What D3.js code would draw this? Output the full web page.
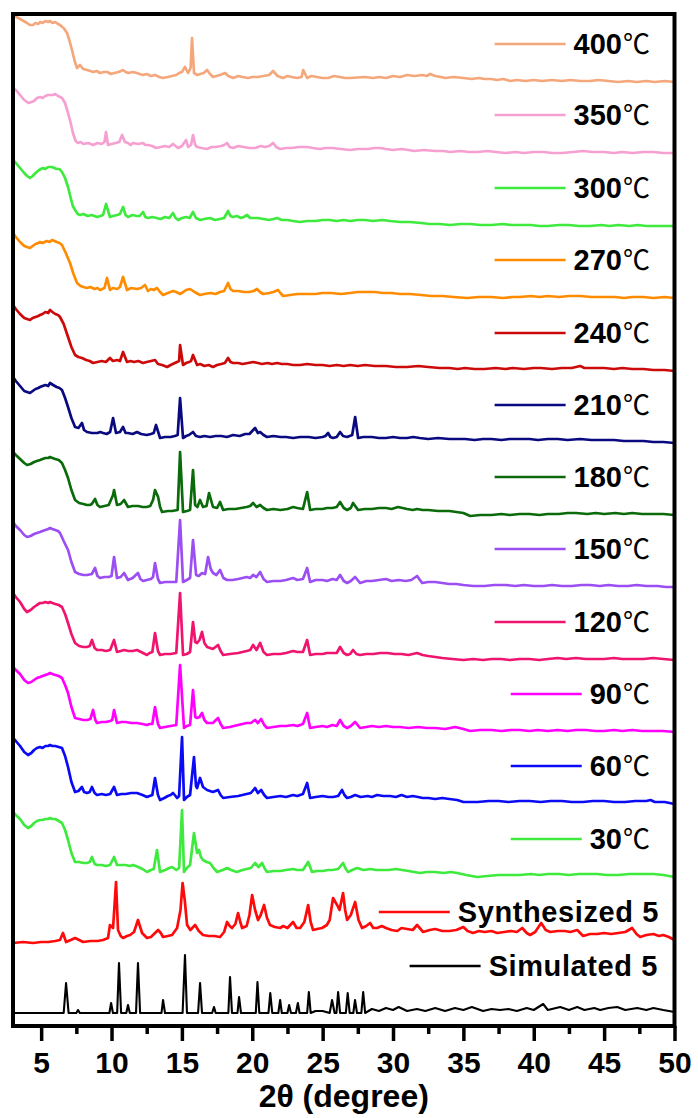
<!DOCTYPE html>
<html>
<head>
<meta charset="utf-8">
<script src="https://cdnjs.cloudflare.com/ajax/libs/d3/7.8.5/d3.min.js"></script>
<style>
  html, body { margin: 0; padding: 0; background: #fff; }
  svg { display: block; }
</style>
</head>
<body>
<svg id="chart" width="698" height="1118"></svg>
<script>
// ---------------- DATA ----------------
// x: 2-theta (degree); value: relative intensity (a.u.) above each pattern's own baseline
const seriesLabels = ["400", "350", "300", "270", "240", "210", "180", "150", "120", "90", "60", "30", "Synthesized 5", "Simulated 5"];
const seriesColors = ["#f5a77c", "#f5a0d0", "#3dea3d", "#ff8c00", "#cc0a0a", "#0a0a80", "#0b6b0b", "#9b4ef2", "#f0146e", "#ff00ff", "#0a0af5", "#3dea3d", "#ff0a0a", "#000000"];
const seriesOffsets = [944, 873, 800, 728, 655, 583, 511, 439, 366, 294, 222, 149, 86, 13];
const unitSuffix = "℃";

const d400 = [[3.0,67],[3.25,65],[3.5,63],[3.75,61],[4.0,59],[4.2,57],[4.42,57],[4.6,59],[4.8,58],[4.92,60],[5.1,59],[5.3,61],[5.5,60],[5.63,61],[5.8,59],[6.0,60],[6.2,58],[6.34,57],[6.5,55],[6.6,54],[6.84,49],[7.0,42],[7.19,32],[7.4,20],[7.55,14],[7.76,17],[7.98,13],[8.26,12],[8.5,11],[8.7,10],[8.95,11],[9.18,9],[9.45,10],[9.7,10],[9.95,8],[10.2,9],[10.5,10],[10.82,12],[11.0,10],[11.2,9],[11.5,10],[11.8,9],[12.0,8],[12.24,7],[12.5,8],[12.8,6],[13.1,7],[13.4,5],[13.66,4],[14.0,5],[14.3,6],[14.6,7],[14.8,9],[15.0,10],[15.22,15],[15.44,9],[15.62,14],[15.72,44],[15.86,9],[16.1,7],[16.3,8],[16.55,9],[16.79,12],[17.0,8],[17.21,5],[17.45,6],[17.7,7],[18.07,9],[18.3,6],[18.64,4],[19.0,6],[19.3,5],[19.7,4],[20.0,5],[20.4,5],[20.8,6],[21.2,7],[21.48,11],[21.8,6],[22.19,4],[22.5,6],[22.8,5],[23.2,4],[23.5,5],[23.62,12],[23.9,4],[24.2,6],[24.6,5],[25.0,4],[25.4,4],[25.8,6],[26.2,5],[26.6,4],[26.95,4],[28.0,5],[28.6,4],[29.0,5],[29.5,4],[30.0,6],[30.5,5],[31.0,7],[31.5,6],[32.1,7],[32.4,6],[32.64,8],[33.0,6],[33.4,5],[33.7,4],[34.3,5],[35.0,4],[35.6,3],[36.1,4],[36.5,3],[37.0,3],[37.4,2],[37.83,3],[38.32,1],[38.8,2],[39.4,1],[40.0,2],[40.6,1],[41.3,2],[42.0,1],[42.6,2],[43.3,1],[44.0,1],[44.6,2],[45.3,1],[46.0,0],[46.7,1],[47.3,0],[48.0,1],[48.6,0],[49.3,1],[50,0]];
const d350 = [[3.0,65],[3.2,63],[3.5,58],[3.8,53],[4.1,50],[4.3,51],[4.5,52],[4.7,55],[4.92,56],[5.1,55],[5.3,57],[5.5,58],[5.84,58],[6.0,59],[6.2,57],[6.35,56],[6.48,55],[6.7,50],[6.91,40],[7.1,30],[7.26,20],[7.45,12],[7.62,10],[7.8,11],[8.0,9],[8.35,10],[8.69,8],[9.0,10],[9.3,9],[9.5,11],[9.61,21],[9.75,8],[10.0,9],[10.3,10],[10.55,11],[10.75,18],[10.95,11],[11.17,10],[11.35,8],[11.53,10],[11.9,9],[12.24,10],[12.4,8],[12.6,8],[12.9,7],[13.16,5],[13.5,6],[13.8,7],[14.1,6],[14.37,9],[14.55,7],[14.73,5],[15.0,7],[15.3,13],[15.44,6],[15.65,8],[15.79,18],[15.95,8],[16.08,6],[16.4,5],[16.79,4],[17.1,6],[17.4,6],[17.8,7],[18.0,8],[18.21,10],[18.4,6],[18.64,5],[19.0,7],[19.4,6],[19.8,5],[20.2,5],[20.6,7],[20.9,6],[21.2,7],[21.48,10],[21.7,6],[21.98,4],[22.4,5],[22.8,5],[23.3,6],[23.9,6],[24.3,5],[24.8,4],[25.2,5],[25.7,5],[26.3,4],[26.95,3],[27.5,4],[28.2,4],[28.7,5],[29.08,5],[29.5,4],[30.0,3],[30.6,4],[31.1,3],[31.5,2],[32.2,3],[33,2],[33.6,2],[34.06,1],[34.8,2],[35.4,1],[36,1],[36.7,2],[37.3,1],[38,0],[38.7,1],[39.3,0],[40,1],[40.7,1],[41.3,0],[42,0],[42.8,1],[43.5,2],[44.2,1],[45,1],[45.7,0],[46.3,1],[47,0],[47.8,1],[48.5,1],[49.2,0],[50,0]];
const d300 = [[3.0,66],[3.2,63],[3.5,58],[3.8,53],[4.0,50],[4.21,48],[4.4,50],[4.6,53],[4.85,56],[5.13,58],[5.3,57],[5.5,59],[5.77,59],[5.95,58],[6.1,57],[6.3,57],[6.48,54],[6.7,48],[6.91,39],[7.1,28],[7.25,20],[7.41,16],[7.6,12],[7.76,11],[8.0,12],[8.3,10],[8.6,11],[8.97,9],[9.2,10],[9.4,11],[9.61,22],[9.89,9],[10.1,10],[10.4,11],[10.6,12],[10.82,19],[11.0,11],[11.17,9],[11.5,11],[11.8,10],[12.0,10],[12.24,14],[12.4,9],[12.59,8],[12.9,9],[13.2,8],[13.5,7],[13.8,9],[14.1,8],[14.37,13],[14.55,8],[14.73,6],[15.0,8],[15.3,9],[15.55,8],[15.79,14],[16.0,8],[16.29,6],[16.6,7],[17.0,8],[17.35,6],[17.7,7],[18.0,8],[18.28,15],[18.45,10],[18.64,9],[18.9,10],[19.2,8],[19.4,9],[19.63,11],[19.85,8],[20.06,8],[20.4,8],[20.8,7],[21.2,6],[21.5,7],[21.76,8],[22.1,6],[22.5,6],[22.9,5],[23.4,4],[23.9,5],[24.5,5],[25.0,6],[25.5,6],[26.0,5],[26.5,6],[26.95,5],[27.5,6],[28.0,6],[28.6,5],[29.23,6],[29.8,5],[30.5,4],[31.2,4],[32,3],[32.6,2],[33.3,2],[34.06,1],[34.8,2],[35.5,2],[36.2,1],[37,1],[37.8,2],[38.4,1],[39,1],[39.8,1],[40.4,0],[41,0],[41.8,1],[42.5,1],[43.2,0],[44,0],[44.8,1],[45.4,0],[46,1],[46.8,0],[47.4,1],[48,0],[49,0],[50,0]];
const d270 = [[3.0,65],[3.2,61],[3.5,56],[3.8,52],[4.0,51],[4.21,50],[4.4,52],[4.6,54],[4.8,55],[4.92,56],[5.1,55],[5.4,57],[5.6,56],[5.77,58],[5.95,57],[6.1,56],[6.3,55],[6.48,53],[6.75,45],[7.05,35],[7.3,24],[7.55,15],[7.8,12],[8.0,11],[8.26,10],[8.5,11],[8.8,9],[9.0,10],[9.18,8],[9.5,10],[9.68,20],[9.89,8],[10.1,10],[10.4,9],[10.6,11],[10.82,21],[11.1,8],[11.4,10],[11.8,9],[12.1,10],[12.38,13],[12.59,7],[12.8,9],[13.0,8],[13.23,10],[13.45,6],[13.66,3],[14.0,5],[14.37,7],[14.6,6],[14.87,4],[15.1,6],[15.3,8],[15.58,9],[15.9,6],[16.29,3],[16.6,4],[17.0,5],[17.4,4],[17.7,6],[18.0,7],[18.28,15],[18.45,9],[18.64,7],[19.0,7],[19.4,6],[19.8,6],[20.1,7],[20.34,9],[20.55,6],[20.77,4],[21.2,5],[21.5,6],[21.83,8],[22.0,5],[22.19,2],[22.7,3],[23.2,4],[23.8,4],[24.5,4],[25.0,5],[25.6,5],[26.3,4],[26.95,5],[27.5,6],[28.0,6],[28.7,6],[29.3,5],[29.9,5],[30.5,4],[31.2,4],[32,3],[32.7,2],[33.5,2],[34.3,1],[35.27,0],[36.1,1],[37,1],[37.8,0],[38.5,1],[39,1],[39.8,2],[40.4,1],[41,2],[41.8,1],[42.5,2],[43.3,2],[44.1,1],[45,1],[45.8,1],[46.4,0],[47,1],[47.8,1],[48.5,0],[49.3,1],[50,0]];
const d240 = [[3.0,66],[3.2,62],[3.5,57],[3.8,53],[4.0,52],[4.21,51],[4.4,53],[4.6,54],[4.8,55],[4.92,56],[5.1,57],[5.3,59],[5.5,58],[5.63,61],[5.8,59],[6.0,57],[6.2,56],[6.34,54],[6.6,47],[6.91,34],[7.15,24],[7.41,16],[7.65,14],[7.9,13],[8.2,11],[8.45,10],[8.69,8],[9.0,9],[9.3,10],[9.6,9],[9.89,13],[10.1,10],[10.4,11],[10.6,10],[10.82,19],[11.1,9],[11.35,10],[11.6,9],[11.9,10],[12.24,8],[12.5,9],[12.8,10],[13.09,11],[13.3,7],[13.6,6],[13.95,4],[14.2,6],[14.5,8],[14.8,10],[14.87,26],[15.08,6],[15.3,8],[15.5,9],[15.65,10],[15.79,16],[16.08,6],[16.3,7],[16.6,5],[16.9,6],[17.21,4],[17.5,6],[17.8,7],[18.05,8],[18.28,13],[18.45,9],[18.64,8],[19.0,8],[19.3,7],[19.7,8],[20.06,9],[20.4,8],[20.7,7],[21.1,8],[21.4,7],[21.76,8],[22.1,7],[22.5,7],[22.9,6],[23.4,6],[23.9,7],[24.5,6],[25.0,6],[25.5,5],[26.0,6],[26.5,5],[26.95,6],[27.5,5],[28.0,6],[28.7,5],[29.5,5],[30.2,4],[31,4],[31.8,5],[32.5,4],[33.3,3],[34,3],[34.6,2],[35.12,3],[35.8,2],[36.5,2],[37.3,3],[38,2],[38.5,3],[39.3,2],[40,3],[40.5,3],[41.3,2],[42,3],[42.7,3],[43.3,5],[43.6,3],[44.3,3],[45,3],[45.7,2],[46.3,3],[47,2],[47.8,2],[48.5,1],[49.3,1],[50,0]];
const d210 = [[3.0,66],[3.2,62],[3.5,57],[3.8,52],[4.0,51],[4.21,50],[4.4,52],[4.6,54],[4.8,55],[4.92,56],[5.1,57],[5.3,58],[5.5,57],[5.63,60],[5.85,58],[6.1,56],[6.3,55],[6.48,53],[6.7,45],[6.91,36],[7.15,25],[7.41,16],[7.65,15],[7.9,20],[8.05,13],[8.26,11],[8.6,10],[9.0,10],[9.2,11],[9.4,10],[9.65,9],[9.9,11],[10.11,25],[10.32,10],[10.6,11],[10.82,16],[11.0,10],[11.17,10],[11.5,9],[11.81,11],[12.1,9],[12.5,8],[12.8,9],[13.0,10],[13.16,18],[13.45,5],[13.8,6],[14.2,6],[14.5,7],[14.7,8],[14.87,45],[15.08,5],[15.3,7],[15.5,8],[15.79,11],[16.0,7],[16.29,6],[16.6,7],[17.0,6],[17.4,7],[17.8,7],[18.2,6],[18.64,8],[19.1,7],[19.5,9],[19.8,9],[20.0,12],[20.2,15],[20.4,10],[20.56,11],[20.8,8],[21.05,6],[21.5,7],[22.0,6],[22.4,6],[22.9,5],[23.4,6],[24.0,6],[24.5,5],[25.0,6],[25.2,7],[25.39,10],[25.55,6],[25.74,5],[26.0,6],[26.24,11],[26.45,7],[26.74,6],[27.1,8],[27.31,26],[27.52,5],[27.9,6],[28.5,6],[29.0,5],[29.5,5],[30.0,6],[30.5,5],[31.0,5],[31.43,6],[31.9,5],[32.5,4],[33.2,5],[34,4],[34.6,4],[35.12,4],[35.8,3],[36.4,4],[37,4],[37.7,3],[38.3,4],[39,4],[39.7,4],[40.3,3],[41,4],[41.7,4],[42.4,3],[43.3,4],[44.1,3],[45,3],[45.7,3],[46.4,2],[47,2],[47.8,2],[48.5,1],[49.2,1],[50,0]];
const d180 = [[3.0,63],[3.2,60],[3.5,56],[3.8,52],[4.0,50],[4.25,51],[4.5,53],[4.7,54],[4.92,55],[5.1,56],[5.3,57],[5.5,57],[5.63,58],[5.8,57],[6.0,56],[6.25,55],[6.48,52],[6.7,45],[6.91,37],[7.15,25],[7.41,15],[7.7,12],[8.0,11],[8.26,10],[8.45,10],[8.6,11],[8.83,16],[9.0,10],[9.18,8],[9.5,9],[9.8,10],[10.11,20],[10.18,25],[10.39,10],[10.65,11],[10.89,15],[11.17,8],[11.5,9],[11.9,9],[12.2,8],[12.5,8],[12.75,9],[12.95,15],[13.09,25],[13.31,18],[13.45,8],[13.59,3],[14.0,4],[14.3,4],[14.7,5],[14.87,63],[15.08,3],[15.35,4],[15.58,5],[15.79,45],[15.94,10],[16.1,8],[16.29,15],[16.5,8],[16.75,9],[16.93,22],[17.21,8],[17.5,7],[17.71,13],[17.93,5],[18.3,6],[18.8,6],[19.2,7],[19.6,8],[19.85,9],[20.06,12],[20.3,8],[20.56,10],[20.8,7],[21.05,5],[21.5,6],[22.0,5],[22.5,6],[22.9,8],[23.2,7],[23.6,6],[23.9,23],[24.11,5],[24.5,6],[25.0,6],[25.3,7],[25.7,7],[26.0,8],[26.24,13],[26.5,7],[26.74,5],[27.0,7],[27.16,12],[27.52,5],[28.0,6],[28.5,6],[29.0,7],[29.5,7],[29.9,6],[30.36,8],[31.0,6],[31.4,5],[31.71,6],[32.1,5],[32.5,5],[33.2,4],[34,4],[34.5,3],[35.0,2],[35.48,-1],[36.2,0],[37,0],[37.7,1],[38.3,0],[39,1],[39.7,1],[40.4,0],[41,1],[41.8,1],[42.4,2],[43,2],[43.8,1],[44.4,2],[45,1],[45.8,2],[46.4,1],[47,2],[47.7,1],[48.5,1],[49.2,1],[50,0]];
const d150 = [[3.0,65],[3.2,61],[3.5,57],[3.8,52],[4.0,50],[4.25,51],[4.5,53],[4.7,54],[4.92,55],[5.1,56],[5.3,57],[5.5,58],[5.63,59],[5.8,58],[6.0,57],[6.2,56],[6.34,54],[6.6,46],[6.91,37],[7.15,25],[7.41,15],[7.7,13],[8.0,12],[8.26,12],[8.6,13],[8.83,19],[9.0,11],[9.18,9],[9.5,10],[9.8,10],[10.0,11],[10.18,30],[10.39,9],[10.65,10],[10.89,14],[11.17,7],[11.5,9],[11.88,14],[12.05,8],[12.24,6],[12.5,7],[12.8,8],[12.95,10],[13.09,24],[13.3,8],[13.45,4],[13.8,5],[14.2,5],[14.6,5],[14.87,67],[15.08,5],[15.35,7],[15.58,9],[15.79,47],[16.01,12],[16.2,11],[16.43,14],[16.65,13],[16.86,30],[17.05,18],[17.21,14],[17.45,12],[17.71,17],[17.95,9],[18.21,7],[18.6,7],[19.0,8],[19.3,9],[19.6,10],[19.85,9],[20.06,12],[20.3,10],[20.56,15],[20.8,8],[21.05,5],[21.5,6],[22.0,6],[22.4,7],[22.9,9],[23.2,7],[23.6,8],[23.9,19],[24.11,5],[24.5,7],[25.0,7],[25.3,6],[25.7,8],[26.0,7],[26.24,12],[26.5,6],[26.74,4],[27.0,6],[27.31,10],[27.66,4],[28.1,6],[28.5,6],[29.0,7],[29.5,8],[29.9,6],[30.4,7],[30.9,6],[31.3,7],[31.71,11],[32.07,4],[32.5,5],[33.0,5],[33.5,4],[34,3],[34.5,3],[35.0,2],[35.7,1],[36.5,1],[37.2,2],[38,2],[38.7,1],[39.3,2],[40,1],[40.7,1],[41.3,2],[42,1],[42.7,1],[43.4,2],[44,2],[44.7,1],[45.3,2],[46,1],[46.7,1],[47.3,2],[48,1],[48.8,1],[49.4,0],[50,0]];
const d120 = [[3.0,67],[3.2,63],[3.5,58],[3.8,51],[4.0,48],[4.25,50],[4.5,53],[4.7,55],[4.92,57],[5.1,57],[5.3,58],[5.5,57],[5.63,58],[5.8,57],[6.0,56],[6.25,55],[6.48,53],[6.7,46],[6.91,37],[7.15,26],[7.41,17],[7.7,14],[8.0,13],[8.26,13],[8.45,14],[8.61,20],[8.8,12],[8.97,10],[9.3,10],[9.6,9],[9.9,10],[10.18,20],[10.39,8],[10.65,9],[10.89,10],[11.2,9],[11.5,9],[11.81,10],[12.1,8],[12.52,5],[12.7,7],[12.9,8],[13.09,27],[13.3,9],[13.45,5],[13.8,6],[14.2,6],[14.6,7],[14.87,67],[15.08,5],[15.35,6],[15.58,8],[15.79,38],[15.95,18],[16.08,17],[16.25,20],[16.43,28],[16.6,17],[16.79,13],[17.2,11],[17.57,15],[17.75,9],[17.93,5],[18.4,6],[19.0,7],[19.3,8],[19.6,9],[19.85,10],[20.06,15],[20.3,10],[20.56,17],[20.8,8],[21.05,5],[21.5,6],[22.0,6],[22.4,7],[22.9,9],[23.2,8],[23.6,8],[23.9,20],[24.11,5],[24.5,6],[25.0,6],[25.3,7],[25.7,7],[26.0,7],[26.24,13],[26.5,7],[26.74,5],[26.95,6],[27.16,10],[27.4,6],[27.66,5],[28.1,6],[28.6,6],[29.1,7],[29.6,7],[30.1,6],[30.6,6],[31.1,5],[31.4,6],[31.71,7],[32.1,5],[32.5,4],[33.0,3],[33.5,2],[34.2,1],[35.0,0],[35.7,1],[36.4,0],[37,1],[37.7,1],[38.3,0],[39,1],[39.7,1],[40.4,0],[41,1],[41.7,2],[42.3,1],[43,2],[43.7,1],[44.3,1],[45,1],[45.7,2],[46.3,1],[47,1],[47.8,1],[48.5,2],[49.2,1],[50,0]];
const d90 = [[3.0,65],[3.2,62],[3.5,58],[3.8,52],[4.07,49],[4.3,50],[4.5,52],[4.7,54],[4.92,55],[5.1,56],[5.3,57],[5.5,58],[5.63,59],[5.8,58],[6.0,57],[6.25,56],[6.48,54],[6.7,47],[6.91,39],[7.15,25],[7.41,14],[7.7,13],[8.0,12],[8.26,12],[8.5,13],[8.69,22],[8.85,12],[8.97,9],[9.3,10],[9.6,10],[9.9,11],[10.05,12],[10.18,22],[10.39,9],[10.7,10],[11.0,10],[11.4,9],[11.81,9],[12.2,8],[12.52,7],[12.7,8],[12.9,8],[13.09,25],[13.3,8],[13.45,4],[13.8,5],[14.2,6],[14.6,7],[14.87,67],[15.15,4],[15.35,6],[15.58,7],[15.79,42],[15.95,15],[16.08,14],[16.25,15],[16.43,19],[16.6,12],[16.79,9],[17.2,9],[17.57,14],[17.75,8],[17.93,4],[18.4,5],[19.0,7],[19.3,8],[19.6,9],[19.9,9],[20.2,12],[20.4,9],[20.63,13],[20.85,7],[21.05,4],[21.5,5],[22.0,6],[22.4,6],[22.9,7],[23.2,6],[23.6,8],[23.9,19],[24.11,4],[24.5,5],[25.0,6],[25.3,5],[25.7,7],[26.0,6],[26.24,12],[26.5,6],[26.74,4],[27.0,6],[27.31,10],[27.66,4],[28.1,5],[28.5,6],[29.0,5],[29.5,6],[30.0,5],[30.5,5],[31.1,4],[31.78,5],[32.4,4],[33.0,4],[33.7,3],[34.41,5],[35.0,3],[35.48,1],[36.2,2],[37,2],[37.7,1],[38.4,2],[39,2],[39.7,1],[40.3,2],[41,1],[41.7,2],[42.4,1],[43,2],[43.7,2],[44.4,1],[45,1],[45.7,2],[46.3,1],[47,2],[47.7,1],[48.5,1],[49.2,1],[50,0]];
const d60 = [[3.0,66],[3.2,63],[3.5,58],[3.8,52],[4.07,49],[4.3,51],[4.5,54],[4.7,56],[4.92,57],[5.1,56],[5.3,58],[5.5,58],[5.63,59],[5.8,58],[6.0,58],[6.25,57],[6.48,56],[6.7,48],[6.91,37],[7.15,22],[7.41,12],[7.65,13],[7.9,17],[8.05,12],[8.26,11],[8.45,12],[8.61,17],[8.8,11],[8.97,9],[9.3,10],[9.6,9],[9.9,10],[10.18,17],[10.39,9],[10.7,10],[11.0,10],[11.4,11],[11.81,11],[12.2,9],[12.52,7],[12.7,8],[12.9,9],[13.09,26],[13.3,9],[13.45,4],[13.75,6],[14.0,8],[14.2,9],[14.37,11],[14.55,8],[14.66,6],[14.8,8],[15.01,67],[15.15,4],[15.35,7],[15.58,9],[15.86,47],[16.0,18],[16.08,16],[16.29,26],[16.5,17],[16.79,14],[17.2,12],[17.57,14],[17.75,9],[17.93,6],[18.4,7],[19.0,8],[19.3,9],[19.6,10],[19.9,11],[20.2,16],[20.4,11],[20.63,14],[20.85,9],[21.05,6],[21.5,7],[22.0,8],[22.4,7],[22.9,9],[23.2,8],[23.6,10],[23.9,21],[24.11,6],[24.5,7],[25.0,8],[25.4,7],[25.74,7],[26.1,8],[26.38,14],[26.55,9],[26.74,6],[27.0,7],[27.31,9],[27.7,7],[28.2,8],[28.5,7],[28.87,9],[29.3,8],[29.8,8],[30.2,7],[30.6,9],[31.0,7],[31.4,8],[31.78,7],[32.1,6],[32.5,6],[33.0,5],[33.5,6],[34.0,5],[34.56,4],[35.0,2],[35.5,2],[36,2],[36.8,3],[37.5,3],[38.2,2],[39,3],[39.7,3],[40.5,2],[41.2,3],[42,3],[42.7,2],[43.5,2],[44.2,3],[45,3],[45.7,2],[46.5,2],[47.2,3],[48.0,3],[48.3,4],[48.6,2],[49.3,2],[50,0]];
const d30 = [[3.0,65],[3.2,62],[3.5,58],[3.8,52],[4.07,49],[4.3,51],[4.5,54],[4.7,56],[4.92,57],[5.1,57],[5.3,58],[5.5,58],[5.63,59],[5.8,58],[6.0,58],[6.25,56],[6.48,54],[6.7,47],[6.91,37],[7.15,24],[7.41,15],[7.7,15],[8.0,14],[8.26,14],[8.45,15],[8.61,20],[8.8,13],[8.97,12],[9.3,12],[9.6,11],[9.9,12],[10.18,20],[10.39,12],[10.7,12],[11.0,12],[11.3,11],[11.53,12],[11.9,10],[12.2,8],[12.52,5],[12.8,7],[13.0,8],[13.23,27],[13.45,5],[13.8,7],[14.1,9],[14.3,10],[14.6,7],[14.8,9],[15.01,67],[15.15,5],[15.35,9],[15.58,12],[15.86,44],[16.08,24],[16.22,27],[16.35,20],[16.5,17],[16.75,15],[17.0,14],[17.25,9],[17.5,5],[17.9,7],[18.21,9],[18.5,7],[18.9,5],[19.3,7],[19.6,8],[19.9,9],[20.2,14],[20.45,10],[20.7,14],[20.9,8],[21.05,5],[21.5,6],[22.0,6],[22.4,7],[22.9,8],[23.2,7],[23.6,7],[23.97,15],[24.25,5],[24.6,6],[25.0,6],[25.4,7],[25.7,7],[26.1,8],[26.45,14],[26.65,8],[26.81,5],[27.1,7],[27.45,9],[27.9,7],[28.4,8],[28.8,7],[29.23,7],[29.7,7],[30.2,8],[30.65,7],[31.1,6],[31.5,5],[31.93,4],[32.4,5],[33,5],[33.6,4],[34.1,5],[34.56,4],[35.2,2],[35.98,0],[36.7,1],[37.5,2],[38.2,2],[39,2],[39.8,3],[40.4,2],[41,3],[41.8,3],[42.5,2],[43.2,3],[43.8,3],[44.5,3],[45.2,2],[46,2],[46.8,3],[47.6,3],[48.5,3],[49.2,2],[50,0]];
const dSynthesized = [[3.0,-3],[3.7,-2],[4.42,-3],[5.0,-2],[5.5,-2],[6.0,-1],[6.34,0],[6.55,7],[6.77,-2],[7.1,0],[7.41,2],[7.7,0],[7.98,-2],[8.5,-1],[9.0,-1],[9.4,0],[9.75,2],[9.89,15],[10.11,12],[10.32,58],[10.46,10],[10.65,4],[10.82,2],[11.1,4],[11.32,5],[11.6,8],[11.88,20],[12.17,7],[12.52,2],[12.8,3],[13.09,7],[13.31,10],[13.5,7],[13.66,3],[14.0,4],[14.3,5],[14.66,12],[14.9,30],[15.05,57],[15.2,40],[15.37,15],[15.6,10],[15.94,15],[16.2,9],[16.5,5],[16.9,4],[17.3,4],[17.71,3],[18.0,8],[18.21,18],[18.4,14],[18.56,12],[18.8,16],[18.99,27],[19.15,18],[19.28,12],[19.6,14],[19.8,25],[19.99,45],[20.2,30],[20.41,20],[20.6,25],[20.84,35],[21.05,22],[21.26,15],[21.6,13],[21.98,12],[22.2,14],[22.5,12],[22.7,15],[22.9,18],[23.15,12],[23.4,12],[23.7,18],[23.97,35],[24.15,18],[24.32,10],[24.6,11],[24.96,12],[25.3,15],[25.5,20],[25.74,42],[25.9,38],[26.03,35],[26.2,30],[26.45,47],[26.6,30],[26.74,20],[27.0,25],[27.31,38],[27.55,20],[27.8,12],[28.1,14],[28.37,17],[28.6,12],[28.87,12],[29.2,14],[29.5,12],[29.9,10],[30.3,9],[30.6,12],[31.0,11],[31.4,10],[31.71,15],[32.14,8],[32.6,10],[33.0,11],[33.5,9],[34.0,9],[34.5,10],[35.0,13],[35.3,9],[35.69,7],[36.1,9],[36.5,8],[37.0,9],[37.4,7],[37.9,8],[38.4,9],[38.8,8],[39.18,12],[39.5,7],[39.74,5],[40.1,8],[40.53,17],[40.85,10],[41.17,8],[41.7,9],[42.2,9],[42.6,8],[43.09,10],[43.51,4],[44.0,6],[44.5,6],[45.0,7],[45.5,6],[46.0,7],[46.5,8],[46.99,12],[47.3,6],[47.56,3],[48.0,5],[48.5,6],[48.9,4],[49.2,5],[49.6,3],[50,0]];
const dSimulated = [[3.0,0],[6.6,0],[6.77,30],[6.95,0],[7.5,0],[7.62,3],[7.75,0],[9.85,0],[9.97,10],[10.1,0],[10.4,0],[10.53,50],[10.68,0],[11.05,0],[11.17,8],[11.3,0],[11.74,0],[11.88,50],[12.03,0],[13.55,0],[13.66,13],[13.8,0],[15.05,0],[15.22,58],[15.36,0],[16.15,0],[16.29,30],[16.43,0],[17.15,0],[17.28,6],[17.4,0],[18.3,0],[18.42,36],[18.56,0],[18.95,0],[19.06,16],[19.2,0],[20.25,0],[20.37,31],[20.5,0],[21.15,0],[21.28,20],[21.42,0],[21.85,0],[21.98,13],[22.1,0],[22.5,0],[22.62,8],[22.75,0],[23.1,0],[23.24,10],[23.36,0],[23.9,0],[24.02,21],[24.15,0],[24.5,2],[25.0,2],[25.5,0],[25.67,13],[25.85,0],[25.98,0],[26.1,21],[26.24,0],[26.65,0],[26.78,20],[26.92,0],[27.18,0],[27.3,13],[27.44,0],[27.75,0],[27.88,21],[28.02,0],[28.5,4],[29.0,2],[29.5,5],[30.0,3],[30.4,6],[31.0,2],[31.7,4],[32.3,2],[33.0,5],[33.7,2],[34.4,5],[35.0,3],[35.6,6],[36.4,2],[37.0,4],[37.6,3],[38.2,4],[38.8,2],[39.5,5],[40.0,3],[40.67,9],[41.0,3],[41.88,6],[42.5,3],[43.09,6],[43.6,3],[44.3,5],[44.72,3],[45.3,5],[45.93,6],[46.5,3],[47.35,5],[48.0,3],[48.5,5],[49.2,3],[50,1]];

const seriesData = [d400, d350, d300, d270, d240, d210, d180, d150, d120, d90, d60, d30, dSynthesized, dSimulated];

const xDomain = [3, 50];
const majorTicks = [5, 10, 15, 20, 25, 30, 35, 40, 45, 50];
const minorTicks = [7.5, 12.5, 17.5, 22.5, 27.5, 32.5, 37.5, 42.5, 47.5];
const xTitle = "2θ (degree)";

// ---------------- DRAWING ----------------
const FONT = "'Liberation Sans', Arial, Helvetica, sans-serif";
const svg = d3.select("#chart");

const x = d3.scaleLinear().domain(xDomain).range([13, 674.5]);
const y = d3.scaleLinear().domain([0, 1012]).range([1026, 14]);

svg.append("defs").append("clipPath").attr("id", "plotclip")
  .append("rect")
  .attr("x", x(xDomain[0])).attr("y", y(1012))
  .attr("width", x(xDomain[1]) - x(xDomain[0]))
  .attr("height", y(0) - y(1012));

const curves = svg.append("g").attr("clip-path", "url(#plotclip)");

seriesData.forEach((data, i) => {
  const off = seriesOffsets[i];
  const line = d3.line()
    .x(d => x(d[0]))
    .y(d => y(off + d[1]));
  curves.append("path")
    .datum(data)
    .attr("d", line)
    .attr("fill", "none")
    .attr("stroke", seriesColors[i])
    .attr("stroke-width", i === seriesData.length - 1 ? 2.1 : 2.7)
    .attr("stroke-linejoin", "round");
});

// frame
svg.append("rect")
  .attr("x", x(xDomain[0])).attr("y", y(1012))
  .attr("width", x(xDomain[1]) - x(xDomain[0]))
  .attr("height", y(0) - y(1012))
  .attr("fill", "none").attr("stroke", "#000").attr("stroke-width", 4);

// axis ticks
const gMajor = svg.append("g").attr("transform", `translate(0,${y(0)})`)
  .call(d3.axisBottom(x).tickValues(majorTicks).tickSize(15).tickFormat(d3.format("d")));
gMajor.select(".domain").remove();
gMajor.selectAll(".tick line").attr("stroke", "#000").attr("stroke-width", 3.5);
gMajor.attr("font-family", FONT).attr("font-size", 30).attr("font-weight", "bold");
gMajor.selectAll(".tick text").attr("y", 47).attr("dy", 0).attr("fill", "#000");

const gMinor = svg.append("g").attr("transform", `translate(0,${y(0)})`)
  .call(d3.axisBottom(x).tickValues(minorTicks).tickSize(8).tickFormat(""));
gMinor.select(".domain").remove();
gMinor.selectAll(".tick line").attr("stroke", "#000").attr("stroke-width", 3.5);

// axis title
svg.append("text")
  .attr("x", (x(xDomain[0]) + x(xDomain[1])) / 2)
  .attr("y", 1107)
  .attr("text-anchor", "middle")
  .attr("font-family", FONT).attr("font-size", 32).attr("font-weight", "bold")
  .attr("fill", "#000")
  .text(xTitle);

// legend
const legend = svg.append("g");
seriesLabels.forEach((lab, i) => {
  const n = seriesLabels.length;
  let ly, xEnd;
  if (i < n - 2) { ly = y(seriesOffsets[i] + 38); xEnd = 650; }
  else if (i === n - 2) { ly = y(seriesOffsets[i] + 28); xEnd = 659; }
  else { ly = y(seriesOffsets[i] + 47); xEnd = 658; }
  const t = legend.append("text")
    .attr("x", xEnd).attr("y", ly + 10)
    .attr("text-anchor", "end")
    .attr("fill", "#000");
  if (i < n - 2) {
    t.append("tspan").attr("font-family", FONT).attr("font-weight", "bold").attr("font-size", 29).text(lab);
    t.append("tspan").attr("font-family", "'Noto Sans CJK SC', 'Noto Sans', sans-serif").attr("font-weight", "normal").attr("font-size", 27).attr("dx", 1).text(unitSuffix);
  } else {
    t.attr("font-family", FONT).attr("font-weight", "bold").attr("font-size", 29).attr("letter-spacing", 0.6).text(lab);
  }
  const bb = t.node().getBBox();
  const x2 = bb.x - 8;
  legend.append("line")
    .attr("x1", x2 - 71).attr("x2", x2)
    .attr("y1", ly).attr("y2", ly)
    .attr("stroke", seriesColors[i]).attr("stroke-width", 2.7);
});
</script>
</body>
</html>
